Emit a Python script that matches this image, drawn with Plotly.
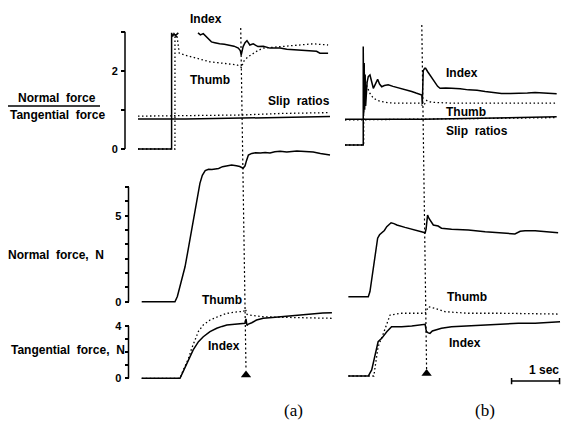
import plotly.graph_objects as go

# page body has an 8px default margin; map reference pixels accordingly
OFF = 8
W, H = 570 - OFF, 422 - OFF
SANS = "Liberation Sans, Arial, Helvetica, sans-serif"
SERIF = "Liberation Serif, Times New Roman, serif"

# ---------------- Panel (a) data (time in s) ----------------
a_ratio_index_t = [0, 0.70, 0.70, 0.72, 0.75, 0.78, 0.84, None, 1.25, 1.30, 1.36, 1.43, 1.48, 1.53, 1.60, 1.70, 1.80, 1.92, 2.00, 2.09, 2.13, 2.15, 2.17, 2.19, 2.23, 2.27, 2.33, 2.40, 2.50, 2.61, 2.75, 2.96, 3.10, 3.31, 3.45, 3.65, 3.72, 3.79, 3.96]
a_ratio_index_v = [0, 0, 2.97, 2.88, 2.95, 2.90, 2.97, None, 2.97, 2.92, 2.95, 2.87, 2.82, 2.74, 2.72, 2.69, 2.68, 2.66, 2.63, 2.58, 2.52, 2.40, 2.55, 2.62, 2.72, 2.77, 2.66, 2.69, 2.62, 2.63, 2.58, 2.58, 2.55, 2.53, 2.52, 2.49, 2.50, 2.45, 2.45]
a_ratio_thumb_t = [0, 0.77, 0.77, 0.79, 0.81, 0.84, 0.86, 0.98, 1.10, 1.22, 1.35, 1.50, 1.65, 1.78, 1.92, 2.06, 2.12, 2.16, 2.19, 2.23, 2.32, 2.40, 2.50, 2.61, 2.80, 2.96, 3.31, 3.65, 3.96]
a_ratio_thumb_v = [0, 0, 2.94, 2.85, 2.92, 2.60, 2.45, 2.40, 2.36, 2.32, 2.27, 2.23, 2.21, 2.19, 2.17, 2.15, 2.12, 2.08, 2.22, 2.29, 2.38, 2.45, 2.52, 2.58, 2.60, 2.62, 2.66, 2.69, 2.66]
a_slip_index_t = [0, 1.0, 2.17, 3.0, 4.0]
a_slip_index_v = [0.77, 0.77, 0.79, 0.81, 0.83]
a_slip_thumb_t = [0, 1.0, 2.17, 3.0, 4.0]
a_slip_thumb_v = [0.84, 0.85, 0.87, 0.91, 0.93]

a_normal_t = [0.077, 0.77, 0.82, 0.875, 0.93, 0.98, 1.03, 1.08, 1.13, 1.19, 1.24, 1.29, 1.34, 1.40, 1.47, 1.54, 1.61, 1.68, 1.76, 1.85, 1.95, 2.05, 2.12, 2.19, 2.23, 2.26, 2.30, 2.37, 2.45, 2.55, 2.65, 2.75, 2.85, 2.96, 3.10, 3.31, 3.45, 3.65, 3.80, 3.90, 4.00]
a_normal_v = [0, 0, 0.3, 0.87, 1.4, 2.03, 2.8, 3.59, 4.6, 5.52, 6.3, 6.88, 7.35, 7.62, 7.70, 7.68, 7.72, 7.75, 7.85, 7.89, 7.95, 7.90, 7.86, 7.76, 7.90, 8.2, 8.53, 8.62, 8.66, 8.64, 8.68, 8.65, 8.72, 8.74, 8.70, 8.76, 8.74, 8.70, 8.62, 8.56, 8.53]

a_tang_index_t = [0.077, 0.875, 0.94, 1.05, 1.15, 1.26, 1.36, 1.50, 1.64, 1.75, 1.85, 1.96, 2.06, 2.15, 2.23, 2.25, 2.27, 2.30, 2.37, 2.47, 2.61, 2.80, 2.96, 3.15, 3.31, 3.50, 3.65, 3.85, 4.04]
a_tang_index_v = [0, 0, 0.51, 1.40, 2.17, 2.80, 3.18, 3.57, 3.83, 3.97, 4.08, 4.12, 4.15, 4.18, 4.21, 4.55, 4.05, 4.15, 4.25, 4.46, 4.59, 4.66, 4.71, 4.78, 4.84, 4.90, 4.97, 5.00, 5.02]
a_tang_thumb_t = [0.077, 0.875, 0.94, 0.98, 1.05, 1.12, 1.19, 1.26, 1.36, 1.50, 1.70, 1.85, 2.06, 2.20, 2.24, 2.27, 2.32, 2.40, 2.61, 2.96, 3.31, 3.65, 4.04]
a_tang_thumb_v = [0, 0, 0.6, 0.89, 1.5, 2.3, 3.0, 3.6, 4.08, 4.46, 4.77, 4.97, 5.08, 5.12, 5.3, 4.9, 4.84, 4.80, 4.71, 4.67, 4.64, 4.62, 4.59]
a_slip_time = [2.14, 2.25]      # top, bottom of slip marker line
a_marker = (2.25, 0.25)

# ---------------- Panel (b) data ----------------
b_ratio_index_t = [0, 0.38, 0.38, 0.39, 0.40, 0.41, 0.42, 0.43, 0.44, 0.46, 0.485, 0.52, 0.55, 0.59, 0.63, 0.68, 0.72, 0.765, 0.82, 0.90, 1.00, 1.10, 1.18, 1.28, 1.39, 1.48, 1.56, 1.60, 1.61, 1.62, 1.63, 1.66, 1.68, 1.72, 1.77, 1.82, 1.875, 1.93, 1.98, 2.10, 2.22, 2.40, 2.57, 2.75, 2.92, 3.10, 3.26, 3.45, 3.61, 3.80, 3.96, 4.20, 4.41]
b_ratio_index_v = [0, 0, 2.52, 0.8, 2.1, 0.9, 1.8, 1.0, 1.2, 1.6, 1.75, 1.79, 1.65, 1.45, 1.55, 1.68, 1.56, 1.49, 1.52, 1.54, 1.50, 1.47, 1.45, 1.41, 1.37, 1.33, 1.30, 1.28, 1.05, 1.45, 1.90, 1.96, 1.96, 1.88, 1.79, 1.68, 1.58, 1.50, 1.45, 1.46, 1.45, 1.44, 1.41, 1.40, 1.37, 1.35, 1.32, 1.32, 1.32, 1.33, 1.34, 1.32, 1.31]
b_ratio_thumb_t = [0, 0.39, 0.39, 0.42, 0.46, 0.52, 0.59, 0.68, 0.765, 0.90, 1.05, 1.20, 1.40, 1.56, 1.62, 1.66, 1.70, 1.735, 1.85, 2.22, 2.60, 3.00, 3.40, 3.80, 4.41]
b_ratio_thumb_v = [0, 0, 1.9, 1.65, 1.49, 1.32, 1.20, 1.14, 1.11, 1.08, 1.07, 1.07, 1.07, 1.07, 1.00, 1.05, 1.14, 1.11, 1.09, 1.07, 1.07, 1.07, 1.07, 1.07, 1.07]
b_slip_index_t = [0, 1.6, 4.41]
b_slip_index_v = [0.66, 0.66, 0.72]
b_slip_thumb_t = [0, 1.6, 4.41]
b_slip_thumb_v = [0.64, 0.66, 0.70]

b_normal_t = [0.07, 0.485, 0.52, 0.556, 0.59, 0.625, 0.68, 0.72, 0.765, 0.82, 0.87, 0.96, 1.02, 1.08, 1.25, 1.46, 1.60, 1.67, 1.69, 1.72, 1.75, 1.77, 1.80, 1.84, 1.94, 2.01, 2.22, 2.57, 2.92, 3.26, 3.54, 3.65, 3.75, 3.96, 4.20, 4.44]
b_normal_v = [0, 0, 0.3, 0.97, 1.8, 2.52, 3.40, 3.60, 3.69, 3.85, 4.07, 4.30, 4.25, 4.17, 4.03, 3.88, 3.80, 3.72, 3.95, 4.75, 4.55, 4.46, 4.35, 4.17, 4.11, 3.98, 3.92, 3.88, 3.78, 3.72, 3.65, 3.80, 3.84, 3.84, 3.76, 3.72]

b_tang_index_t = [0.07, 0.485, 0.556, 0.60, 0.64, 0.69, 0.765, 0.87, 0.97, 1.18, 1.39, 1.67, 1.69, 1.70, 1.735, 1.77, 1.82, 1.875, 2.01, 2.22, 2.57, 2.92, 3.26, 3.61, 3.96, 4.48]
b_tang_index_v = [0, 0, 0.46, 1.1, 1.74, 2.62, 2.88, 3.39, 3.77, 3.77, 3.83, 3.95, 3.5, 3.39, 3.3, 3.26, 3.45, 3.52, 3.65, 3.77, 3.83, 3.90, 3.95, 4.03, 4.03, 4.15]
b_tang_thumb_t = [0.07, 0.60, 0.64, 0.69, 0.80, 0.94, 1.18, 1.67, 1.70, 1.735, 1.875, 2.08, 2.57, 3.26, 4.44]
b_tang_thumb_v = [0, 0, 1.0, 2.24, 3.27, 4.67, 4.80, 4.80, 5.0, 5.30, 5.18, 4.92, 4.80, 4.80, 4.74]
b_slip_time = [1.60, 1.70]
b_marker = (1.70, 0.19)

scale_bar_t = [3.47, 4.47]      # 1 second
scale_bar_v = -0.38

# ---------------- axis ticks ----------------
ratio_ticks = [0, 1, 2, 3]
ratio_labels = ["0", "", "2", ""]
normal_ticks = [k * 5 / 6 for k in range(9)]
normal_labels = ["0", "", "", "", "", "", "5", "", ""]
tang_ticks = [0, 1, 2, 3, 4]
tang_labels = ["0", "", "", "", "4"]

# ---------------- layout helpers (reference pixel geometry) ----------------
def px(p):
    return (p - OFF) / W

def py(p):
    return 1 - (p - OFF) / H

def ydom(p0, s, lo, hi):
    return [py(p0 - s * lo), py(p0 - s * hi)]

R_RANGE = [-0.3, 3.2]
N_RANGE = [-0.3, 9.0]
T_RANGE = [-0.9, 5.8]

fig = go.Figure()

def line(t, v, xa, ya, dotted=False):
    fig.add_trace(go.Scatter(
        x=t, y=v, xaxis=xa, yaxis=ya, mode="lines",
        line=dict(color="black", width=1.3 if dotted else 1.5,
                  dash="1.5px,2.5px" if dotted else "solid"),
        hoverinfo="skip", showlegend=False))

# panel a
line(a_slip_thumb_t, a_slip_thumb_v, "x", "y", True)
line(a_slip_index_t, a_slip_index_v, "x", "y")
line(a_ratio_thumb_t, a_ratio_thumb_v, "x", "y", True)
line(a_ratio_index_t, a_ratio_index_v, "x", "y")
line(a_normal_t, a_normal_v, "x", "y2")
line(a_tang_thumb_t, a_tang_thumb_v, "x", "y3", True)
line(a_tang_index_t, a_tang_index_v, "x", "y3")
# panel b
line(b_slip_thumb_t, b_slip_thumb_v, "x2", "y4", True)
line(b_slip_index_t, b_slip_index_v, "x2", "y4")
line(b_ratio_thumb_t, b_ratio_thumb_v, "x2", "y4", True)
line(b_ratio_index_t, b_ratio_index_v, "x2", "y4")
line(b_normal_t, b_normal_v, "x2", "y5")
line(b_tang_thumb_t, b_tang_thumb_v, "x2", "y6", True)
line(b_tang_index_t, b_tang_index_v, "x2", "y6")

# slip markers (triangles)
fig.add_trace(go.Scatter(x=[a_marker[0]], y=[a_marker[1]], xaxis="x", yaxis="y3", mode="markers",
                         marker=dict(symbol="triangle-up", size=9, color="black"),
                         hoverinfo="skip", showlegend=False))
fig.add_trace(go.Scatter(x=[b_marker[0]], y=[b_marker[1]], xaxis="x2", yaxis="y6", mode="markers",
                         marker=dict(symbol="triangle-up", size=9, color="black"),
                         hoverinfo="skip", showlegend=False))

# time scale bar
fig.add_trace(go.Scatter(
    x=[scale_bar_t[0], scale_bar_t[0], None, scale_bar_t[0], scale_bar_t[1], None, scale_bar_t[1], scale_bar_t[1]],
    y=[scale_bar_v + 0.22, scale_bar_v - 0.25, None, scale_bar_v, scale_bar_v, None, scale_bar_v + 0.22, scale_bar_v - 0.25],
    xaxis="x2", yaxis="y6", mode="lines", line=dict(color="black", width=1.5),
    hoverinfo="skip", showlegend=False))

tickfont = dict(family=SANS, size=11, color="black", weight="bold")

def yax(dom, rng, pos, tv=None, tt=None, visible=True):
    d = dict(domain=dom, range=rng, showgrid=False, zeroline=False, showline=False,
             fixedrange=True)
    if visible:
        d.update(anchor="free", position=pos, ticks="outside", ticklen=4, tickwidth=1.5,
                 tickcolor="black", tickvals=tv, ticktext=tt, tickfont=tickfont, ticklabelstandoff=1)
    else:
        d.update(visible=False, anchor="x2")
    return d

fig.update_layout(
    width=W, height=H, margin=dict(l=0, r=0, t=0, b=0),
    paper_bgcolor="white", plot_bgcolor="rgba(0,0,0,0)", showlegend=False,
    xaxis=dict(domain=[px(138), px(333)], range=[0, 195 / 48], visible=False, anchor="y3"),
    xaxis2=dict(domain=[px(345), px(561)], range=[0, 4.5], visible=False, anchor="y6"),
    yaxis=yax(ydom(149, 39.1, *R_RANGE), R_RANGE, px(125), ratio_ticks, ratio_labels),
    yaxis2=yax(ydom(301.7, 17.2, *N_RANGE), N_RANGE, px(128.5), normal_ticks, normal_labels),
    yaxis3=yax(ydom(378.3, 13.07, *T_RANGE), T_RANGE, px(128.5), tang_ticks, tang_labels),
    yaxis4=yax(ydom(145, 39.1, *R_RANGE), R_RANGE, 0, visible=False),
    yaxis5=yax(ydom(296.7, 17.2, *N_RANGE), N_RANGE, 0, visible=False),
    yaxis6=yax(ydom(376, 13.07, *T_RANGE), T_RANGE, 0, visible=False),
)

shapes = []
# axis lines
shapes.append(dict(type="line", xref="paper", yref="y", x0=px(125), x1=px(125), y0=0, y1=3,
                   line=dict(color="black", width=1.5)))
shapes.append(dict(type="line", xref="paper", yref="y2", x0=px(128.5), x1=px(128.5), y0=0, y1=normal_ticks[-1],
                   line=dict(color="black", width=1.5)))
shapes.append(dict(type="line", xref="paper", yref="y3", x0=px(128.5), x1=px(128.5), y0=0, y1=4,
                   line=dict(color="black", width=1.5)))
# slip (vertical dotted) lines
shapes.append(dict(type="line", xref="x", yref="paper", x0=a_slip_time[0], x1=a_slip_time[1],
                   y0=py(28), y1=py(370), line=dict(color="black", width=1.2, dash="2px,2.5px")))
shapes.append(dict(type="line", xref="x2", yref="paper", x0=b_slip_time[0], x1=b_slip_time[1],
                   y0=py(25), y1=py(370), line=dict(color="black", width=1.2, dash="2px,2.5px")))
# fraction bar
shapes.append(dict(type="line", xref="paper", yref="paper", x0=px(6), x1=px(100), y0=py(106), y1=py(106),
                   line=dict(color="black", width=1.3)))
fig.update_layout(shapes=shapes)

def ann(text, x, y, size=12, family=SANS, bold=True, xanchor="center"):
    return dict(text=text, x=px(x), y=py(y), xref="paper", yref="paper", showarrow=False,
                xanchor=xanchor, yanchor="middle",
                font=dict(family=family, size=size, color="black", weight="bold" if bold else "normal"))

anns = [
    ann("Index", 206, 19), ann("Thumb", 210, 80), ann("Slip  ratios", 299, 101),
    ann("Normal  force", 57, 98), ann("Tangential  force", 57, 115),
    ann("Normal  force,  N", 56, 255), ann("Tangential  force,  N", 68, 350),
    ann("Thumb", 222, 300), ann("Index", 224, 346),
    ann("Index", 462, 73), ann("Thumb", 466, 112), ann("Slip  ratios", 477, 131),
    ann("Thumb", 467, 297), ann("Index", 465, 343),
    ann("1 sec", 561, 370, xanchor="right"),
    ann("(a)", 293, 410, size=17, family=SERIF, bold=False),
    ann("(b)", 485, 410, size=17, family=SERIF, bold=False),
]
fig.update_layout(annotations=anns)

fig.write_html("out.html")
